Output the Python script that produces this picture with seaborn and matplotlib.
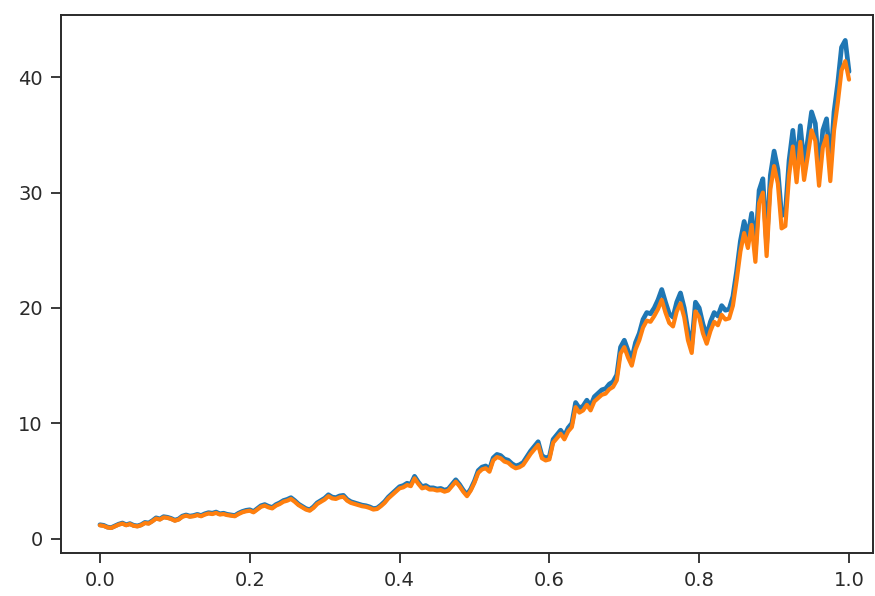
import numpy as np
import pandas as pd
import matplotlib
matplotlib.use("Agg")
import matplotlib.pyplot as plt
import seaborn as sns

# Simulated path (blue) and its numerical approximation (orange) on a uniform time grid
n_steps = 200
t_grid = np.linspace(0.0, 1.0, n_steps + 1)

exact_path = [
    1.20, 1.15, 1.00, 0.95, 1.10, 1.25, 1.35, 1.20, 1.30, 1.15,
    1.10, 1.20, 1.40, 1.35, 1.55, 1.80, 1.70, 1.90, 1.85, 1.75,
    1.60, 1.70, 1.95, 2.05, 1.95, 2.00, 2.10, 2.00, 2.15, 2.25,
    2.20, 2.30, 2.15, 2.20, 2.10, 2.05, 2.00, 2.20, 2.35, 2.45,
    2.50, 2.35, 2.60, 2.85, 2.95, 2.80, 2.70, 2.95, 3.10, 3.30,
    3.40, 3.55, 3.30, 3.00, 2.80, 2.60, 2.50, 2.75, 3.10, 3.30,
    3.50, 3.80, 3.60, 3.55, 3.70, 3.75, 3.40, 3.20, 3.10, 3.00,
    2.90, 2.85, 2.75, 2.60, 2.65, 2.90, 3.20, 3.60, 3.90, 4.20,
    4.50, 4.60, 4.80, 4.70, 5.40, 4.90, 4.50, 4.60, 4.40, 4.40,
    4.30, 4.35, 4.20, 4.30, 4.70, 5.10, 4.70, 4.20, 3.80, 4.30,
    5.00, 5.90, 6.20, 6.30, 6.00, 7.00, 7.30, 7.20, 6.90, 6.80,
    6.50, 6.30, 6.40, 6.60, 7.10, 7.60, 8.00, 8.40, 7.20, 7.00,
    7.10, 8.60, 9.00, 9.40, 8.90, 9.60, 10.00, 11.80, 11.30, 11.50,
    12.00, 11.50, 12.30, 12.60, 12.90, 13.00, 13.40, 13.60, 14.20, 16.60,
    17.20, 16.30, 15.60, 17.00, 17.80, 19.00, 19.60, 19.50, 20.00, 20.70,
    21.60, 20.50, 19.50, 19.20, 20.50, 21.30, 20.00, 18.00, 16.80, 20.50,
    20.00, 18.60, 17.60, 18.80, 19.60, 19.30, 20.20, 19.80, 19.90, 21.00,
    23.20, 25.80, 27.50, 26.20, 28.20, 25.00, 30.20, 31.20, 25.50, 31.50,
    33.60, 32.00, 28.00, 28.20, 32.80, 35.40, 32.20, 35.80, 32.40, 34.60,
    37.00, 36.00, 31.80, 35.40, 36.40, 32.20, 37.00, 39.50, 42.60, 43.20,
    40.50,
]

approx_path = [
    1.15, 1.10, 0.97, 0.92, 1.06, 1.21, 1.30, 1.16, 1.26, 1.11,
    1.06, 1.16, 1.35, 1.30, 1.50, 1.74, 1.65, 1.84, 1.80, 1.70,
    1.55, 1.65, 1.89, 1.99, 1.90, 1.94, 2.04, 1.94, 2.08, 2.18,
    2.13, 2.23, 2.09, 2.13, 2.04, 1.99, 1.94, 2.13, 2.28, 2.37,
    2.42, 2.28, 2.52, 2.76, 2.86, 2.71, 2.62, 2.86, 3.00, 3.20,
    3.29, 3.44, 3.20, 2.91, 2.71, 2.52, 2.42, 2.66, 3.00, 3.20,
    3.39, 3.68, 3.49, 3.44, 3.58, 3.63, 3.29, 3.10, 3.00, 2.91,
    2.81, 2.76, 2.66, 2.52, 2.57, 2.81, 3.10, 3.49, 3.78, 4.07,
    4.36, 4.45, 4.65, 4.55, 5.23, 4.75, 4.36, 4.45, 4.26, 4.26,
    4.17, 4.21, 4.07, 4.17, 4.55, 4.94, 4.55, 4.07, 3.68, 4.17,
    4.85, 5.70, 6.00, 6.10, 5.80, 6.78, 7.07, 6.97, 6.68, 6.58,
    6.29, 6.10, 6.19, 6.39, 6.87, 7.35, 7.74, 8.13, 6.97, 6.78,
    6.87, 8.32, 8.71, 9.09, 8.61, 9.29, 9.67, 11.40, 10.93, 11.12,
    11.60, 11.12, 11.89, 12.18, 12.47, 12.57, 12.95, 13.15, 13.73, 16.05,
    16.60, 15.70, 15.00, 16.40, 17.20, 18.30, 18.90, 18.80, 19.30, 19.90,
    20.70, 19.60, 18.70, 18.40, 19.70, 20.40, 19.20, 17.20, 16.10, 19.70,
    19.20, 17.80, 16.90, 18.00, 18.80, 18.50, 19.40, 19.00, 19.10, 20.20,
    22.40, 24.90, 26.50, 25.20, 27.20, 24.00, 29.10, 30.00, 24.50, 30.30,
    32.30, 30.80, 26.90, 27.10, 31.50, 34.00, 30.90, 34.40, 31.10, 33.20,
    35.40, 34.50, 30.60, 33.90, 34.90, 31.00, 35.40, 37.80, 40.60, 41.40,
    39.80,
]

x_ticks = [0.0, 0.2, 0.4, 0.6, 0.8, 1.0]
y_ticks = [0, 10, 20, 30, 40]

df = pd.DataFrame({"t": t_grid, "exact": exact_path, "approx": approx_path})

sns.set_style("white")
plt.rcParams["font.family"] = ["DejaVu Sans"]

fig = plt.figure(figsize=(8.75, 5.96), dpi=100)
ax = fig.add_axes([0.0697, 0.0721, 0.9280, 0.9027])

sns.lineplot(data=df, x="t", y="exact", color="#1f77b4", linewidth=3.4, ax=ax)
sns.lineplot(data=df, x="t", y="approx", color="#ff7f0e", linewidth=3.0, ax=ax)

ax.set_xlim(-0.052, 1.032)
ax.set_ylim(-1.25, 45.4)
ax.set_xticks(x_ticks)
ax.set_xticklabels([f"{v:.1f}" for v in x_ticks])
ax.set_yticks(y_ticks)
ax.set_xlabel("")
ax.set_ylabel("")
ax.tick_params(axis="both", labelsize=14, colors="#2a2a2a", length=7,
               width=1.3, direction="out", bottom=True, left=True, pad=6)
for spine in ax.spines.values():
    spine.set_visible(True)
    spine.set_color("#2a2a2a")
    spine.set_linewidth(1.4)

fig.savefig("out.png", dpi=100)
